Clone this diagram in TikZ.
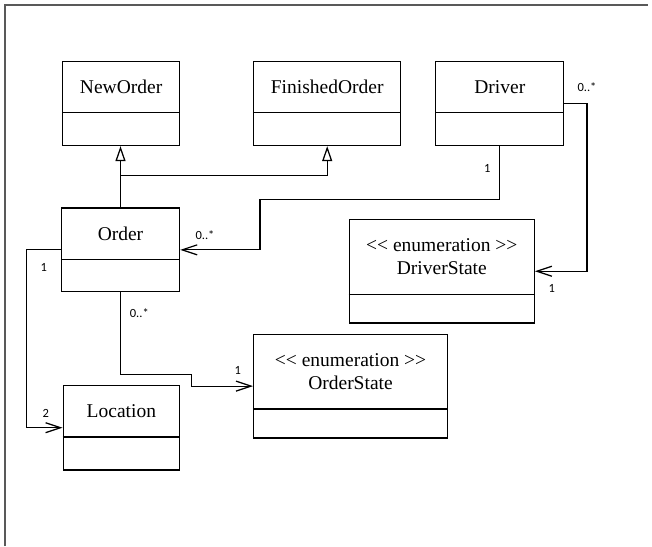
\documentclass[tikz,border=0pt]{standalone}
\usepackage{fontspec}
\setmainfont{Liberation Serif}
\newfontfamily\labelfont{Carlito}
\usetikzlibrary{arrows.meta}
\newcommand\umlclass[7]{%
  \node[classbox, minimum width={#4-#2}, minimum height={#6-#3}] (#1) at ({(#2+#4)/2},{(#3+#6)/2}) {};
  \draw (#1.west |- 0,#5) -- (#1.east |- 0,#5);
  \node[classname] (#1-name) at ({(#2+#4)/2},{(#3+#5)/2}) {#7};
}
\begin{document}
\begin{tikzpicture}[x=1pt,y=-1pt, line width=1.25pt,
  classbox/.style={draw, rectangle, inner sep=0pt},
  classname/.style={font=\fontsize{19.5}{23}\selectfont, align=center, inner sep=0pt},
  mult/.style={font=\labelfont\fontsize{12.5}{13}\selectfont, inner sep=0pt},
  assoc/.style={-{Straight Barb[length=15pt,width=10pt]}},
  gen/.style={-{Triangle[open,length=15pt,width=10pt,fill=white]}},
  frame/.style={draw=black!65, line width=1.5pt}]
\useasboundingbox (0,0) rectangle (652,546);
\draw[frame] (5,546) -- (5,5) -- (648,5);

\umlclass{neworder}{62.6}{61.6}{179.6}{112.8}{145.5}{NewOrder}
\umlclass{finished}{253.6}{61.6}{400.8}{112.8}{145.5}{FinishedOrder}
\umlclass{driver}{435.8}{61.6}{563.8}{112.8}{145.5}{Driver}
\umlclass{order}{61.4}{207.9}{179.6}{259.4}{291.8}{Order}
\umlclass{dstate}{349.3}{219.4}{534.3}{294.6}{323.1}{<\kern0pt< enumeration >\kern0pt>\\DriverState}
\umlclass{location}{63.2}{385.4}{179.6}{437}{470}{Location}
\umlclass{ostate}{253.6}{334.3}{447.4}{409.1}{438}{<\kern0pt< enumeration >\kern0pt>\\OrderState}

% generalizations
\coordinate (gj) at (order.north |- 0,175.8);
\draw[gen] (order.north) -- (order.north |- neworder.south);
\draw[gen] (gj) -| (finished.south);

% associations
\coordinate (c1) at (259.9,199.2);
\draw[assoc] (driver.south) |- (c1) |- (order.east);
\coordinate (c2) at (587.1,200);
\draw[assoc] (driver.east) -| (c2) |- (dstate.east);
\coordinate (c3) at (26.5,340);
\draw[assoc] (order.west) -| (c3) |- (location.west);
\coordinate (c4) at (191.7,374.3);
\draw[assoc] (order.south) |- (c4) |- (ostate.west);

% multiplicities
\node[mult] (m1) at (587,87) {0..*};
\node[mult] (m2) at (487.3,168.9) {1};
\node[mult] (m3) at (205,235) {0..*};
\node[mult] (m4) at (551.8,288.3) {1};
\node[mult] (m5) at (43.7,267.4) {1};
\node[mult] (m6) at (139.3,312.7) {0..*};
\node[mult] (m7) at (237.8,370.8) {1};
\node[mult] (m8) at (45.7,413.3) {2};
\end{tikzpicture}
\end{document}
